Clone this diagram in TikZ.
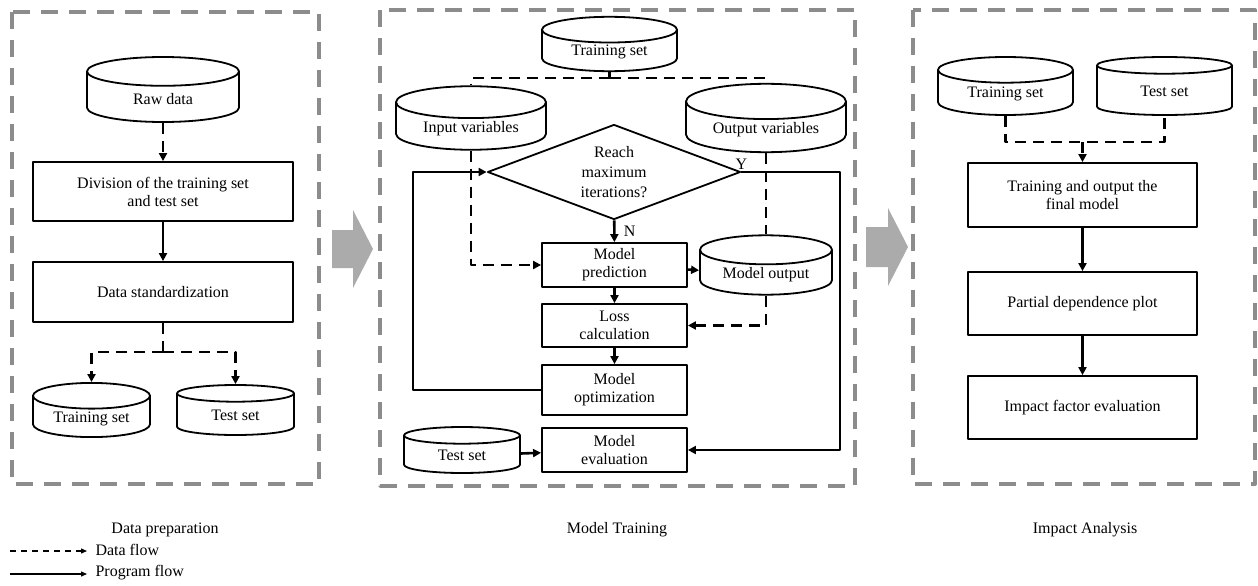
\documentclass[tikz,border=0pt]{standalone}
\usepackage{fontspec}
\setmainfont{Liberation Serif}
\usetikzlibrary{shapes.geometric,arrows.meta}
\definecolor{panelgray}{HTML}{8C8C8C}
\definecolor{arrowgray}{HTML}{ABABAB}
\tikzset{
	box/.style={draw,line width=1.8pt,align=center,inner sep=2pt},
	db/.style={cylinder,shape border rotate=90,draw,line width=1.8pt,aspect=0.32,inner sep=2pt,anchor=shape center},
	dflow/.style={line width=2.6pt,dash pattern=on 11pt off 7pt},
	pflow/.style={line width=2.6pt},
	panel/.style={draw=panelgray,line width=3.8pt,dash pattern=on 17pt off 11pt},
	legline/.style={line width=1.3pt,>={Triangle[length=6pt,width=5pt]}}
}
\begin{document}
\begin{tikzpicture}[x=1pt,y=-1pt,>={Triangle[length=8pt,width=8pt]},line join=round,
	font=\fontsize{16pt}{18pt}\selectfont]
	\useasboundingbox (0,0) rectangle (1258,586);
	%========================
	\draw[panel] (12,12) rectangle (319,484);
	\draw[panel] (380,10) rectangle (855,486);
	\draw[panel] (913,10) rectangle (1255,484);
	\fill[arrowgray] (332,230)--(353,230)--(353,210)--(373,249)--(353,288)--(353,268)--(332,268)--cycle;
	\fill[arrowgray] (866,227)--(888,227)--(888,208)--(908,247)--(888,286)--(888,267)--(866,267)--cycle;
	\node (labA) at (165,530) {Data preparation};
	\node (labB) at (617,530) {Model Training};
	\node (labC) at (1085,530) {Impact Analysis};
	%========================
	\node[db,aspect=0.45,minimum width=152pt,minimum height=65pt] (raw) at (163,89.5) {Raw data};
	\node[box,minimum width=260pt,minimum height=59pt] (div) at (163,191.5) {Division of the training set\\and test set};
	\node[box,minimum width=260pt,minimum height=60pt] (std) at (163,292) {Data standardization};
	\node[db,minimum width=117pt,minimum height=50pt] (trainA) at (91.5,410) {Training set};
	\node[db,minimum width=117pt,minimum height=50pt] (testA) at (235.5,410) {Test set};
	\coordinate (splitA) at (163,352);
	\draw[dflow,->] (raw) -- (div);
	\draw[pflow,->] (div) -- (std);
	\draw[dflow] (std) -- (splitA);
	\draw[dflow,->] (splitA) -| (trainA);
	\draw[dflow,->] (splitA) -| (testA);
	%========================
	\node[db,minimum width=135pt,minimum height=48pt] (trainB) at (609.5,44) {Training set};
	\node[db,minimum width=150pt,minimum height=44pt] (inVar) at (471,118) {Input variables};
	\node[db,minimum width=160pt,minimum height=44pt] (outVar) at (766,118) {Output variables};
	\node[diamond,draw,line width=1.8pt,align=center,inner sep=0pt,aspect=2.66,minimum width=253pt,minimum height=95pt,
		font=\fontsize{16pt}{20pt}\selectfont] (dec) at (614,172) {Reach\\maximum\\iterations?};
	\node[box,minimum width=145pt,minimum height=44pt] (pred) at (614.5,265) {Model\\prediction};
	\node[db,minimum width=132pt,minimum height=44pt] (mout) at (766,265) {Model output};
	\node[box,minimum width=145pt,minimum height=43pt] (loss) at (614.5,325.5) {Loss\\calculation};
	\node[box,minimum width=145pt,minimum height=50pt] (opt) at (614.5,390) {Model\\optimization};
	\node[box,minimum width=145pt,minimum height=44pt] (eval) at (614.5,450) {Model\\evaluation};
	\node[db,minimum width=116pt,minimum height=46pt] (testB) at (462,450) {Test set};
	\coordinate (splitB) at (609.5,78);
	\coordinate (loopL) at (413,172);
	\coordinate (loopR) at (840,172);
	\draw[dflow] (trainB) -- (splitB);
	\draw[dflow] (splitB) -| (inVar);
	\draw[dflow] (splitB) -| (outVar);
	\draw[dflow,->] (inVar) |- (pred);
	\draw[dflow] (outVar) -- (mout);
	\draw[dflow,->] (mout) |- (loss);
	\draw[pflow,->] (dec) -- node[right,xshift=5pt]{N} (pred);
	\draw[pflow,->] (pred) -- (mout);
	\draw[pflow,->] (pred) -- (loss);
	\draw[pflow,->] (loss) -- (opt);
	\draw[pflow,->] (opt) -| (loopL) -- (dec);
	\draw[pflow,->] (dec) -- node[pos=0,above,inner sep=1pt]{Y} (loopR) |- (eval);
	\draw[pflow,->] (testB) -- (eval);
	%========================
	\node[db,minimum width=135pt,minimum height=58pt] (trainC) at (1005.5,86) {Training set};
	\node[db,minimum width=135pt,minimum height=58pt] (testC) at (1164.5,86) {Test set};
	\node[box,minimum width=229pt,minimum height=64pt] (final) at (1082.5,195) {Training and output the\\final model};
	\node[box,minimum width=229pt,minimum height=63pt] (pdp) at (1082.5,303.5) {Partial dependence plot};
	\node[box,minimum width=229pt,minimum height=63pt] (ife) at (1082.5,407.5) {Impact factor evaluation};
	\coordinate (joinC) at (1082.5,142);
	\draw[dflow] (trainC) |- (joinC) -| (testC);
	\draw[dflow,->] (joinC) -- (final);
	\draw[pflow,->] (final) -- (pdp);
	\draw[pflow,->] (pdp) -- (ife);
	%========================
	\node[right] (lgData) at (92,550) {Data flow};
	\node[right] (lgProg) at (92,573) {Program flow};
	\coordinate (ldA) at (10,551);
	\coordinate (lpA) at (10,574);
	\draw[legline,dash pattern=on 6pt off 5pt,->] (ldA) -- ([xshift=-5pt]lgData.west|-ldA);
	\draw[legline,->] (lpA) -- ([xshift=-5pt]lgProg.west|-lpA);
	%========================
\end{tikzpicture}
\end{document}
